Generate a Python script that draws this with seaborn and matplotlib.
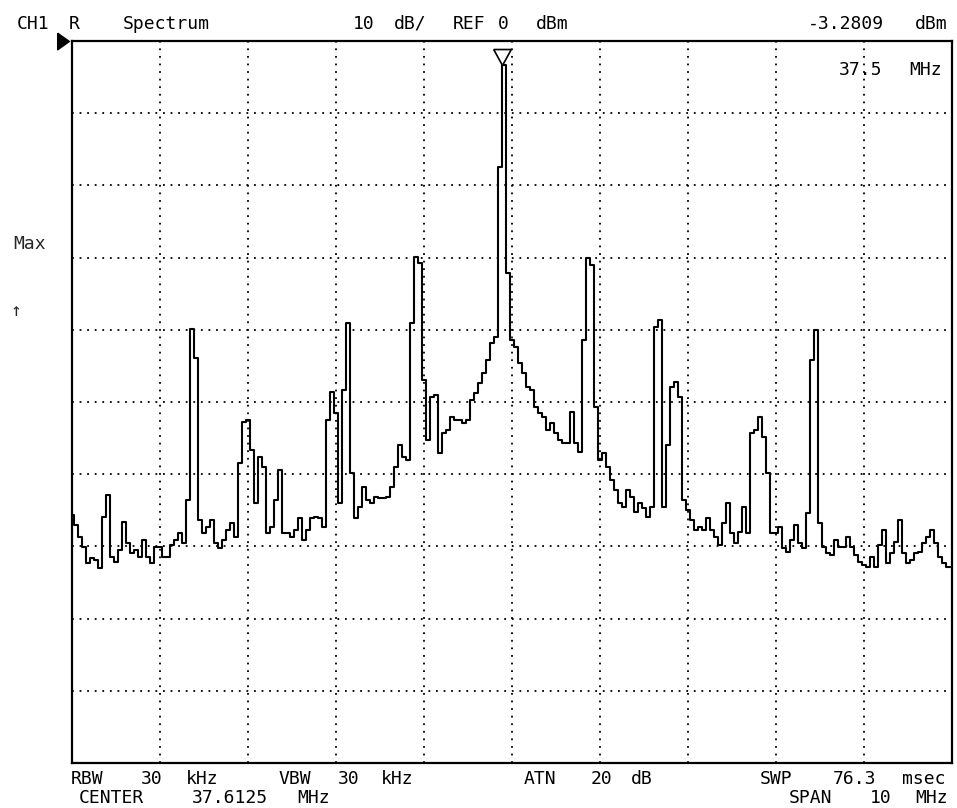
import numpy as np
import matplotlib
matplotlib.use("Agg")
import matplotlib.pyplot as plt
import matplotlib.transforms as mtransforms
import seaborn as sns

# instrument settings shown on the screen
center_mhz = 37.6125
span_mhz = 10.0
ref_dbm = 0.0
db_per_div = 10
marker_mhz = 37.5
marker_dbm = -3.2809

# trace levels, left to right (dBm)
level_dbm = [
    -65.7, -67.0, -68.7, -70.1, -72.3, -71.6, -71.9, -73.0, -65.9, -62.9,
    -71.5, -72.2, -70.5, -66.6, -69.5, -70.9, -70.5, -71.5, -69.1, -71.5,
    -72.3, -70.1, -70.1, -71.5, -71.5, -69.8, -69.1, -68.1, -69.5, -63.6,
    -39.9, -43.9, -66.3, -68.1, -67.3, -66.3, -69.5, -70.2, -69.1, -67.7,
    -66.8, -68.7, -58.4, -52.8, -52.5,
    -56.6, -64.0, -57.6, -59.0, -68.1, -67.3, -63.6, -59.4, -68.1, -68.1,
    -68.7, -67.7, -66.1, -69.1, -67.7, -66.1, -65.9, -66.1, -67.3, -52.5,
    -48.6, -51.5, -64.0, -48.3, -39.1, -59.8, -66.1, -64.5, -61.8, -63.6,
    -64.0, -63.2, -63.3, -63.3, -63.2, -61.8, -59.0, -56.0, -57.6, -58.0,
    -39.1, -29.9, -30.8,
    -47.0, -55.3, -49.3, -49.0, -57.1, -54.3, -53.9, -52.1, -52.5, -52.5,
    -52.9, -52.5, -49.7, -48.8, -47.4, -46.0, -44.2, -41.8, -41.0, -17.5,
    -3.28, -32.1, -41.4, -42.4, -44.6, -46.0, -47.9, -48.3, -50.7, -51.5,
    -52.1, -53.9, -52.9, -54.3, -55.3, -55.7, -55.7, -51.4, -55.7, -56.9,
    -41.4, -30.1, -31.0,
    -50.7, -58.0, -57.1, -59.0, -60.8, -62.2, -64.0, -64.5, -62.2, -63.2,
    -65.2, -64.0, -64.7, -65.9, -64.5, -39.6, -38.6, -64.5, -56.0, -47.9,
    -47.2, -49.3, -63.6, -65.0, -66.3, -67.7, -67.3, -67.7, -66.1, -67.7,
    -68.7, -69.8, -66.8, -64.0, -68.1, -69.5, -68.0, -64.5, -68.1, -54.3,
    -53.9, -52.1, -54.8, -59.8, -68.1,
    -68.1, -67.3, -70.2, -70.8, -69.1, -67.0, -69.5, -70.2, -65.4, -44.2,
    -40.0, -66.8, -70.1, -70.9, -71.2, -69.1, -70.1, -70.1, -68.7, -70.1,
    -71.2, -72.2, -72.6, -72.9, -71.5, -72.9, -69.8, -67.7, -72.3, -70.9,
    -69.4, -66.3, -70.9, -72.3, -71.9, -70.9, -70.8, -69.5, -68.7, -67.7,
    -69.5, -71.5, -72.3, -72.9, -72.9,
]

# sweep points are spread evenly over the span
start_mhz = center_mhz - span_mhz / 2
stop_mhz = center_mhz + span_mhz / 2
freq_mhz = np.linspace(start_mhz, stop_mhz, len(level_dbm))

# screen annotations: (text, centre x in px) per row
top_row = [("CH1", 33), ("R", 74), ("Spectrum", 166), ("10", 364), ("dB/", 410),
           ("REF", 469), ("0", 503), ("dBm", 552), ("-3.2809", 846), ("dBm", 931)]
marker_row = [("37.5", 861), ("MHz", 926)]
bottom_row1 = [("RBW", 87), ("30", 152), ("kHz", 202), ("VBW", 295), ("30", 349),
               ("kHz", 397), ("ATN", 540), ("20", 601), ("dB", 642), ("SWP", 776),
               ("76.3", 854), ("msec", 924)]
bottom_row2 = [("CENTER", 111), ("37.6125", 230), ("MHz", 314), ("SPAN", 811),
               ("10", 881), ("MHz", 932)]

sns.set_style("white")
plt.rcParams["font.family"] = ["DejaVu Sans Mono", "DejaVu Sans"]

W, H = 957, 808
fig = plt.figure(figsize=(W / 100, H / 100), dpi=100)
fig.patch.set_facecolor("white")
ax = fig.add_axes([72 / W, 1 - 763 / H, 880 / W, 722 / H])

sns.lineplot(x=freq_mhz, y=level_dbm, ax=ax, color="black", lw=1.5,
             drawstyle="steps-mid", zorder=3)

ax.set_xlim(start_mhz, stop_mhz)
ax.set_ylim(ref_dbm - 10 * db_per_div, ref_dbm)
ax.set_xticks(np.linspace(start_mhz, stop_mhz, 11))
ax.set_yticks(np.arange(ref_dbm - 10 * db_per_div, ref_dbm + 1, db_per_div))
ax.tick_params(length=0, labelbottom=False, labelleft=False)
ax.set_xlabel("")
ax.set_ylabel("")
ax.grid(True, color="black", linestyle=(0, (1, 3.2)), linewidth=1.3)
for sp in ax.spines.values():
    sp.set_visible(True)
    sp.set_color("black")
    sp.set_linewidth(1.6)

# peak marker (open triangle, tip on the peak)
tri_down = [(-0.55, 1), (0.55, 1), (0, 0), (-0.55, 1)]
ax.plot(marker_mhz, marker_dbm, marker=tri_down, ms=23,
        mfc="white", mec="black", mew=1.2, clip_on=False, zorder=5, ls="none")

# reference level arrow on the left edge
trans = mtransforms.blended_transform_factory(ax.transAxes, ax.transData)
tri_right = [(-0.7, 1), (-0.7, -1), (0.7, 0), (-0.7, 1)]
ax.plot(-9 / 880, ref_dbm, marker=tri_right, ms=12,
        color="black", transform=trans, clip_on=False, ls="none")


def put_row(items, baseline_px, size=13):
    for txt, cx in items:
        fig.text(cx / W, 1 - baseline_px / H, txt, ha="center", va="baseline",
                 fontsize=size, color="black")


put_row(top_row, 29)
put_row(marker_row, 75)
put_row(bottom_row1, 784)
put_row(bottom_row2, 803)
fig.text(13 / W, 1 - 249 / H, "Max", ha="left", va="baseline", fontsize=13)
fig.text(16 / W, 1 - 311 / H, "↑", ha="center", va="center", fontsize=13)

fig.savefig("out.png", dpi=100, facecolor="white")
